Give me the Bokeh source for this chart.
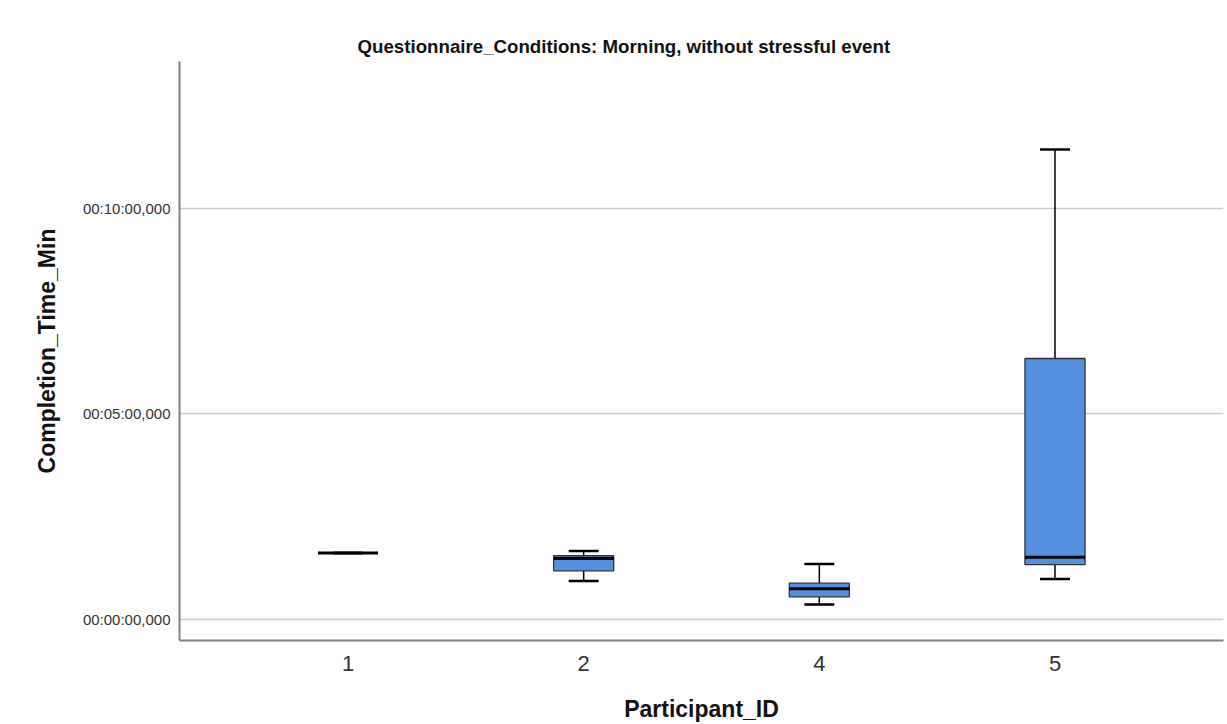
from bokeh.plotting import figure
from bokeh.models import FactorRange, Range1d, FixedTicker, ColumnDataSource, Title
from bokeh.transform import dodge
from bokeh.embed import file_html
from bokeh.resources import INLINE

# Completion time per participant, in seconds
participants = ["1", "2", "4", "5"]
whisker_low = [97, 56, 22, 59]
q1 = [97, 71, 33, 80]
median = [97, 89, 45, 91]
q3 = [97, 93, 53, 381]
whisker_high = [97, 100, 81, 686]

tick_values = [0, 300, 600]
tick_labels = ["00:00:00,000", "00:05:00,000", "00:10:00,000"]

src = ColumnDataSource(dict(
    pid=participants, lo=whisker_low, q1=q1, med=median, q3=q3, hi=whisker_high,
))

p = figure(
    width=1227, height=724,
    x_range=FactorRange(factors=participants, range_padding=0.215,
                        range_padding_units="absolute"),
    y_range=Range1d(-30.7, 814.6),
    output_backend="svg", toolbar_location=None,
    min_border_left=179, min_border_right=4, min_border_top=61, min_border_bottom=84,
)
p.title = None
p.add_layout(Title(text="Questionnaire_Conditions: Morning, without stressful event",
                   text_font="Liberation Sans", text_font_size="18.7px",
                   text_font_style="bold", text_color="#111111",
                   align="left", offset=178, standoff=9), "above")
p.outline_line_color = None
p.background_fill_color = "white"
p.border_fill_color = "white"

# grid
p.xgrid.grid_line_color = None
p.ygrid.ticker = FixedTicker(ticks=tick_values)
p.ygrid.grid_line_color = "#cccccc"
p.ygrid.grid_line_width = 1.5

# axes
p.yaxis.ticker = FixedTicker(ticks=tick_values)
p.yaxis.major_label_overrides = {v: t for v, t in zip(tick_values, tick_labels)}
p.yaxis.axis_label = "Completion_Time_Min"
p.xaxis.axis_label = "Participant_ID"
for ax in (p.xaxis[0], p.yaxis[0]):
    ax.axis_line_color = "#808080"
    ax.axis_line_width = 2
    ax.major_tick_line_color = None
    ax.minor_tick_line_color = None
    ax.major_tick_out = 0
    ax.major_tick_in = 0
    ax.minor_tick_out = 0
    ax.axis_label_text_font = "Liberation Sans"
    ax.axis_label_text_font_size = "23px"
    ax.axis_label_text_font_style = "bold"
    ax.axis_label_text_color = "#111111"
    ax.major_label_text_font = "Liberation Sans"
    ax.major_label_text_color = "#333333"
p.yaxis.major_label_text_font_size = "15px"
p.yaxis.major_label_standoff = 9
p.yaxis.axis_label_standoff = 20
p.xaxis.major_label_text_font_size = "22px"
p.xaxis.major_label_standoff = 15
p.xaxis.axis_label_standoff = 22

cap_w = 0.127
box_w = 0.255

# whiskers
p.segment(x0="pid", y0="q3", x1="pid", y1="hi", source=src, line_color="black", line_width=1.5)
p.segment(x0="pid", y0="lo", x1="pid", y1="q1", source=src, line_color="black", line_width=1.5)

# whisker caps
p.segment(x0=dodge("pid", -cap_w / 2, range=p.x_range), y0="hi",
          x1=dodge("pid", cap_w / 2, range=p.x_range), y1="hi",
          source=src, line_color="black", line_width=2.5)
p.segment(x0=dodge("pid", -cap_w / 2, range=p.x_range), y0="lo",
          x1=dodge("pid", cap_w / 2, range=p.x_range), y1="lo",
          source=src, line_color="black", line_width=2.5)

# boxes
p.vbar(x="pid", bottom="q1", top="q3", width=box_w, source=src,
       fill_color="#5590e0", line_color="#333333", line_width=1.3)

# medians
p.segment(x0=dodge("pid", -box_w / 2, range=p.x_range), y0="med",
          x1=dodge("pid", box_w / 2, range=p.x_range), y1="med",
          source=src, line_color="black", line_width=3)

open("out.html", "w").write(file_html(p, INLINE))
